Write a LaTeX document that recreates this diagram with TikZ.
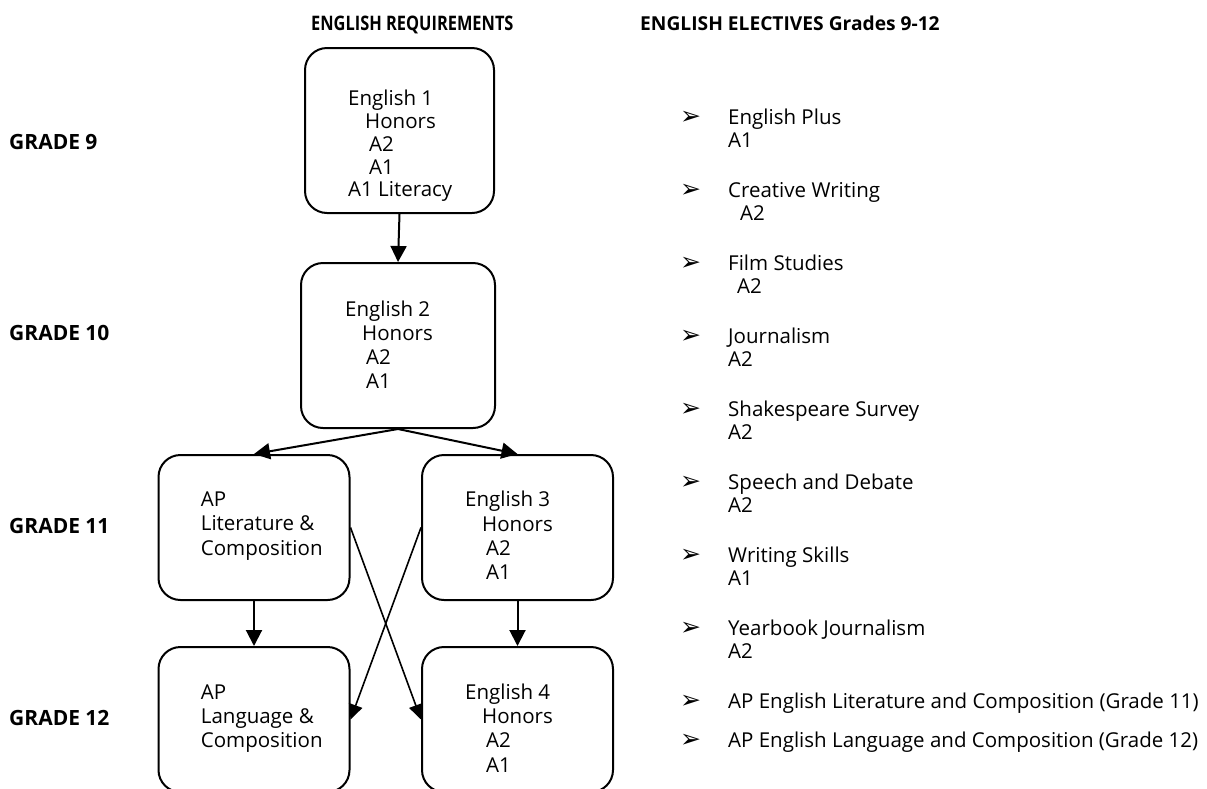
\documentclass[tikz,border=0pt]{standalone}
\usepackage{fontspec}
\setmainfont{Open Sans}
\newfontfamily\symfont{DejaVu Sans}
\newfontfamily\narrowfont[FakeStretch=0.82]{Open Sans}
\usetikzlibrary{arrows.meta}

\begin{document}
\begin{tikzpicture}[x=1pt, y=-1pt,
		course/.style={draw=black, line width=2pt, rounded corners=22pt, minimum width=191pt, minimum height=145pt, inner sep=0pt},
		coursetext/.style={anchor=base west, align=left, inner sep=0pt, font=\fontsize{20.5}{24.3}\selectfont},
		heading/.style={anchor=base west, inner sep=0pt, font=\fontsize{19.2}{22}\selectfont\bfseries},
		grade/.style={anchor=base west, inner sep=0pt, font=\fontsize{21}{23}\selectfont\bfseries},
		elective/.style={anchor=base west, align=left, inner sep=0pt, font=\fontsize{20.5}{23.3}\selectfont},
		bulletmark/.style={anchor=base west, inner sep=0pt, font=\symfont\fontsize{25}{25}\selectfont},
		link/.style={draw=black, line width=2pt, -{Triangle[length=16pt, width=16pt]}},
		cross/.style={draw=black, line width=1.6pt, -{Triangle[length=15pt, width=14pt]}}]
		\useasboundingbox (0,0) rectangle (1207,788);
		% headings
		\node[heading, font=\narrowfont\fontsize{20}{22}\selectfont\bfseries] (reqhead) at (311,30.5) {ENGLISH REQUIREMENTS};
		\node[heading] (elehead) at (640,30.5) {ENGLISH ELECTIVES Grades 9-12};
		\node[grade] (g9) at (9,149.3) {GRADE 9};
		\node[grade] (g10) at (9,340.7) {GRADE 10};
		\node[grade] (g11) at (9,533.3) {GRADE 11};
		\node[grade] (g12) at (9,725) {GRADE 12};
		% required courses
		\node[course, minimum width=189pt, minimum height=165pt] (eng1) at (399.5,130.5) {};
		\node[course, minimum width=194pt, minimum height=165pt] (eng2) at (398,345.5) {};
		\node[course] (lit) at (254,527.5) {};
		\node[course] (eng3) at (517.5,527.5) {};
		\node[course] (lang) at (254,719.5) {};
		\node[course] (eng4) at (517.5,719.5) {};
		\node[coursetext, font=\fontsize{20.5}{22.7}\selectfont] (eng1txt) at (348,196.7) {English 1\\\hspace*{17pt}Honors\\\hspace*{21pt}A2\\\hspace*{21pt}A1\\A1 Literacy};
		\node[coursetext, font=\fontsize{20.5}{24}\selectfont] (eng2txt) at (345,388) {English 2\\\hspace*{17pt}Honors\\\hspace*{21pt}A2\\\hspace*{21pt}A1};
		\node[coursetext] (littxt) at (200.7,555.1) {AP\\Literature \&\\Composition};
		\node[coursetext] (eng3txt) at (465,579.6) {English 3\\\hspace*{17pt}Honors\\\hspace*{21pt}A2\\\hspace*{21pt}A1};
		\node[coursetext] (langtxt) at (200.7,747.7) {AP\\Language \&\\Composition};
		\node[coursetext] (eng4txt) at (465,772) {English 4\\\hspace*{17pt}Honors\\\hspace*{21pt}A2\\\hspace*{21pt}A1};
		\draw[link] (eng1.south) -- (eng2.north);
		\draw[link] (eng2.south) -- (lit.north);
		\draw[link] (eng2.south) -- (eng3.north);
		\draw[link] (lit.south) -- (lang.north);
		\draw[link] (eng3.south) -- (eng4.north);
		\draw[cross] (lit.east) -- (eng4.west);
		\draw[cross] (eng3.west) -- (lang.east);
		% electives
		\node[bulletmark] (m1) at (680,124) {➢};
		\node[elective] (plus) at (728,147.3) {English Plus\\A1};
		\node[bulletmark] (m2) at (680,197) {➢};
		\node[elective] (creative) at (728,220.3) {Creative Writing\\\hspace*{12pt}A2};
		\node[bulletmark] (m3) at (680,270) {➢};
		\node[elective] (film) at (728,293.3) {Film Studies\\\hspace*{9pt}A2};
		\node[bulletmark] (m4) at (680,343) {➢};
		\node[elective] (journal) at (728,366.3) {Journalism\\A2};
		\node[bulletmark] (m5) at (680,416) {➢};
		\node[elective] (shake) at (728,439.3) {Shakespeare Survey\\A2};
		\node[bulletmark] (m6) at (680,489) {➢};
		\node[elective] (speech) at (728,512.3) {Speech and Debate\\A2};
		\node[bulletmark] (m7) at (680,562) {➢};
		\node[elective] (writing) at (728,585.3) {Writing Skills\\A1};
		\node[bulletmark] (m8) at (680,635) {➢};
		\node[elective] (yearbook) at (728,658.3) {Yearbook Journalism\\A2};
		\node[bulletmark] (m9) at (680,708) {➢};
		\node[elective] (aplit) at (728,708) {AP English Literature and Composition (Grade 11)};
		\node[bulletmark] (m10) at (680,747) {➢};
		\node[elective] (aplang) at (728,747) {AP English Language and Composition (Grade 12)};
	\end{tikzpicture}
\end{document}
